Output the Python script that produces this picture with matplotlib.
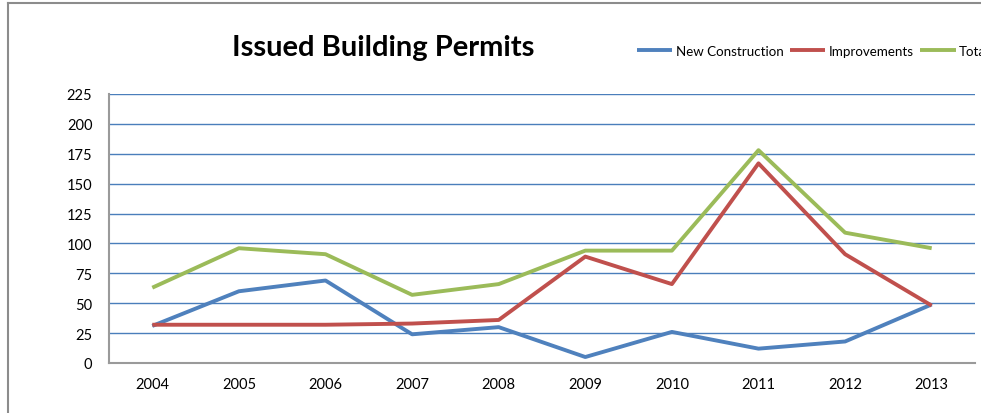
import matplotlib
matplotlib.use('Agg')
import matplotlib.pyplot as plt
from matplotlib.lines import Line2D

plt.rcParams['font.family'] = ['Lato', 'DejaVu Sans']

# data
years = ['2004', '2005', '2006', '2007', '2008', '2009', '2010', '2011', '2012', '2013']
new_construction = [31, 60, 69, 24, 30, 5, 26, 12, 18, 49]
improvements = [32, 32, 32, 33, 36, 89, 66, 167, 91, 48]
total = [63, 96, 91, 57, 66, 94, 94, 178, 109, 96]
yticks = [0, 25, 50, 75, 100, 125, 150, 175, 200, 225]

W, H = 981, 414
fig = plt.figure(figsize=(W / 100, H / 100), dpi=100)

# outer chart border (runs off the right and bottom edges)
fig.add_artist(Line2D([8 / W, 8 / W], [0, 1 - 4 / H], color='#8c8c8c', lw=1.5,
                      transform=fig.transFigure))
fig.add_artist(Line2D([8 / W, 1], [1 - 4 / H, 1 - 4 / H], color='#8c8c8c', lw=1.5,
                      transform=fig.transFigure))

ax = fig.add_axes([109 / W, 50 / H, (975 - 109) / W, (364 - 95) / H])

x = range(len(years))
ax.plot(x, new_construction, color='#4F81BD', lw=2.8, label='New Construction', solid_capstyle='butt')
ax.plot(x, improvements, color='#C0504D', lw=2.8, label='Improvements', solid_capstyle='butt')
ax.plot(x, total, color='#9BBB59', lw=2.8, label='Total', solid_capstyle='butt')

ax.set_xlim(-0.5, len(years) - 0.5)
ax.set_ylim(0, 225)
ax.set_xticks(list(x))
ax.set_xticklabels(years)
ax.set_yticks(yticks)
ax.tick_params(axis='both', length=0, labelsize=10.5, colors='black')
ax.tick_params(axis='y', pad=12)
ax.tick_params(axis='x', pad=10)

ax.yaxis.grid(True, color='#4A7EBB', lw=1.0)
ax.set_axisbelow(True)
for s in ['top', 'right']:
    ax.spines[s].set_visible(False)
for s in ['left', 'bottom']:
    ax.spines[s].set_color('#9a9a9a')
    ax.spines[s].set_linewidth(1.5)

fig.text(383 / W, 1 - 48 / H, 'Issued Building Permits', ha='center', va='center',
         fontsize=21, fontweight='bold')

# legend runs off the right edge, as in the reference
fig.legend(loc='center left', bbox_to_anchor=(637 / W, 1 - 52 / H), ncol=3,
           frameon=False, fontsize=9.6, handlelength=2.65, handletextpad=0.25,
           columnspacing=0.5, borderaxespad=0, borderpad=0)

fig.savefig('out.png', dpi=100)
